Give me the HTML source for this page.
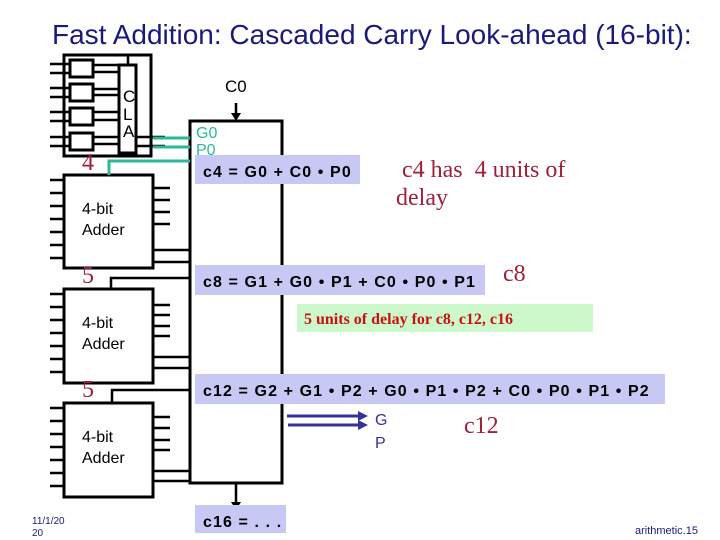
<!DOCTYPE html>
<html><head><style>
body{margin:0;background:#fff;}
svg{display:block;font-family:"Liberation Sans",sans-serif;}
.s{font-family:"Liberation Serif",serif;}
</style></head><body>
<svg width="720" height="540" viewBox="0 0 720 540" xmlns="http://www.w3.org/2000/svg">
<text x="52" y="44" font-size="28" fill="#1a1a7a">Fast Addition: Cascaded Carry Look-ahead (16-bit):</text>
<g stroke="#000" stroke-width="3" fill="none">
<rect x="190" y="121" width="92" height="362"/>
<rect x="64" y="55" width="87" height="101"/>
<rect x="70" y="60" width="23" height="17"/>
<rect x="70" y="84" width="23" height="17"/>
<rect x="70" y="108" width="23" height="17"/>
<rect x="70" y="133" width="23" height="17"/>
<rect x="119" y="65" width="17" height="88"/>
<rect x="64" y="175" width="89" height="93"/>
<rect x="64" y="289" width="89" height="94"/>
<rect x="64" y="403" width="89" height="94"/>
</g>
<g stroke="#000" stroke-width="2.5" fill="none">
<path d="M50 64H70M50 73H70M50 88H70M50 97H70M50 112H70M50 121H70M50 137H70M50 146H70"/>
<path d="M93 65H119M93 72H119M93 89H119M93 95H119M93 112H119M93 120H119M93 137H119M93 144H119"/>
<path d="M136 137H165M136 146H165M128 55V65"/>
<path d="M50 180H64M50 193H64M50 206H64M50 219H64M50 232H64M50 245H64M50 258H64"/>
<path d="M153 188H170M153 200H170M153 212H170M153 224H170M153 250H190M153 262H190"/>
<path d="M50 294H64M50 307H64M50 320H64M50 333H64M50 346H64M50 359H64M50 372H64"/>
<path d="M153 305H170M153 315H170M153 326H170M153 336H170M153 357H190M153 368H190"/>
<path d="M50 408H64M50 421H64M50 434H64M50 447H64M50 460H64M50 473H64M50 486H64"/>
<path d="M153 417H170M153 428H170M153 440H170M153 450H170M153 471H190M153 481H190"/>
<path d="M111 289V278H190M112 403V390H190"/>
<path d="M236 483V505M236 103V116"/>
</g>
<path d="M231 502L236 510L241 502Z M231 113L236 121L241 113Z" fill="#000"/>
<g stroke="#2ab898" stroke-width="3" fill="none">
<path d="M153 138H190M153 147H190M109 175V161H190"/>
</g>
<rect x="195" y="155" width="165" height="29" fill="#c8c8f4"/>
<rect x="195" y="265" width="290" height="30" fill="#c8c8f4"/>
<rect x="297" y="304" width="296" height="28" fill="#ccf8cc"/>
<rect x="195" y="374" width="470" height="30" fill="#c8c8f4"/>
<rect x="195" y="505" width="91" height="28" fill="#c8c8f4"/>
<g stroke="#333399" stroke-width="3">
<path d="M287 416H360M288 425H360"/>
</g>
<path d="M358 411L368 416L358 421Z M358 420L368 425L358 430Z" fill="#333399"/>
<text x="123" y="102" font-size="17" fill="#000">C</text>
<text x="123" y="120" font-size="17" fill="#000">L</text>
<text x="123" y="137" font-size="17" fill="#000">A</text>
<text x="225" y="92" font-size="17" fill="#000">C0</text>
<text x="196" y="138" font-size="16" fill="#2ab898">G0</text>
<text x="196" y="155" font-size="16" fill="#2ab898">P0</text>
<g class="s" fill="#a0203a" font-size="24">
<text x="82" y="170">4</text><text x="82" y="283">5</text><text x="82" y="397">5</text>
<text x="402" y="177" xml:space="preserve">c4 has  4 units of</text>
<text x="396" y="205">delay</text>
<text x="503" y="281">c8</text>
<text x="464" y="433">c12</text>
</g>
<text x="304" y="324" class="s" font-size="16" font-weight="bold" fill="#cc1010">5 units of delay for c8, c12, c16</text>
<g font-size="16" fill="#000">
<text x="82" y="214">4-bit</text><text x="82" y="235">Adder</text>
<text x="82" y="328">4-bit</text><text x="82" y="349">Adder</text>
<text x="82" y="442">4-bit</text><text x="82" y="463">Adder</text>
</g>
<g font-size="16" font-weight="bold" fill="#000" letter-spacing="1.1">
<text x="203" y="177">c4 = G0 + C0 • P0</text>
<text x="203" y="287">c8 = G1 + G0 • P1 + C0 • P0 • P1</text>
<text x="203" y="396">c12 = G2 + G1 • P2 + G0 • P1 • P2 + C0 • P0 • P1 • P2</text>
<text x="203" y="527">c16 = . . .</text>
</g>
<text x="375" y="425" font-size="16" fill="#333399">G</text>
<text x="375" y="448" font-size="16" fill="#333399">P</text>
<text x="32" y="524" font-size="10" fill="#1a1a7a">11/1/20</text>
<text x="32" y="536" font-size="10" fill="#1a1a7a">20</text>
<text x="635" y="534" font-size="11" fill="#1a1a7a">arithmetic.15</text>
</svg>
</body></html>
